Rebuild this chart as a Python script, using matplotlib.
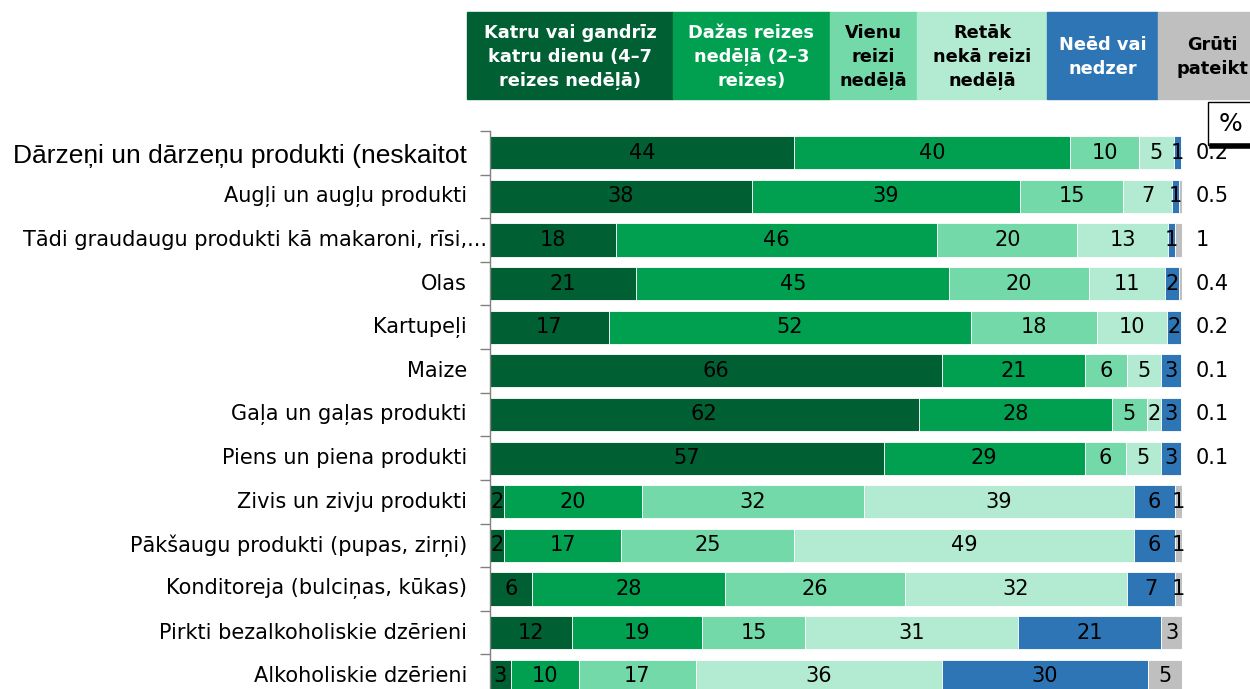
import numpy as np
import matplotlib.pyplot as plt
import matplotlib as mpl
from matplotlib.patches import Rectangle

mpl.rcParams['font.family'] = ['DejaVu Sans']

# dati
kategorijas = [
    "Dārzeņi un dārzeņu produkti (neskaitot",
    "Augļi un augļu produkti",
    "Tādi graudaugu produkti kā makaroni, rīsi,...",
    "Olas",
    "Kartupeļi",
    "Maize",
    "Gaļa un gaļas produkti",
    "Piens un piena produkti",
    "Zivis un zivju produkti",
    "Pākšaugu produkti (pupas, zirņi)",
    "Konditoreja (bulciņas, kūkas)",
    "Pirkti bezalkoholiskie dzērieni",
    "Alkoholiskie dzērieni",
]
katru_dienu = [44, 38, 18, 21, 17, 66, 62, 57, 2, 2, 6, 12, 3]
dazas_reizes = [40, 39, 46, 45, 52, 21, 28, 29, 20, 17, 28, 19, 10]
vienu_reizi = [10, 15, 20, 20, 18, 6, 5, 6, 32, 25, 26, 15, 17]
retak = [5, 7, 13, 11, 10, 5, 2, 5, 39, 49, 32, 31, 36]
needs = [1, 1, 1, 2, 2, 3, 3, 3, 6, 6, 7, 21, 30]
gruti = [0.2, 0.5, 1, 0.4, 0.2, 0.1, 0.1, 0.1, 1, 1, 1, 3, 5]

galvenes = [
    "Katru vai gandrīz\nkatru dienu (4–7\nreizes nedēļā)",
    "Dažas reizes\nnedēļā (2–3\nreizes)",
    "Vienu\nreizi\nnedēļā",
    "Retāk\nnekā reizi\nnedēļā",
    "Neēd vai\nnedzer",
    "Grūti\npateikt",
]
krasas = ['#005f33', '#00a050', '#73d9a8', '#b3ebd2', '#2e75b6', '#bfbfbf']
teksta_krasas = ['white', 'white', 'black', 'black', 'white', 'black']

serijas = [katru_dienu, dazas_reizes, vienu_reizi, retak, needs, gruti]
dati = np.array(serijas, dtype=float)
dati_norm = dati / dati.sum(axis=0) * 100

W, H = 1250, 689
fig = plt.figure(figsize=(W / 100, H / 100), dpi=100)

# galvenā ass
ax = fig.add_axes([490 / W, 1 - 698 / H, (1182 - 490) / W, (698 - 131) / H])
y = np.arange(len(kategorijas))
left = np.zeros(len(kategorijas))
for j, ser in enumerate(dati_norm):
    ax.barh(y, ser, left=left, height=0.76, color=krasas[j],
            edgecolor='white', linewidth=0.6)
    for i in range(len(kategorijas)):
        if j == 5 and i < 8:
            # mazās vērtības ārpus stabiņa
            ax.annotate(f"{serijas[j][i]:g}", xy=(100, y[i]), xytext=(14, 0),
                        textcoords='offset pixels', va='center', ha='left',
                        fontsize=15, annotation_clip=False)
            continue
        ax.text(left[i] + ser[i] / 2, y[i], f"{serijas[j][i]:g}",
                ha='center', va='center', fontsize=15, color='black')
    left += ser

# kategoriju nosaukumi
for i, nos in enumerate(kategorijas):
    if i == 0:
        ax.annotate(nos, xy=(0, y[i]), xycoords=('axes fraction', 'data'),
                    xytext=(-23, -3), textcoords='offset pixels', ha='right',
                    va='center', fontsize=19, family=['Liberation Sans', 'DejaVu Sans'],
                    annotation_clip=False)
    elif nos.endswith('...'):
        ax.annotate(nos, xy=(0, y[i]), xycoords=('axes fraction', 'data'),
                    xytext=(-3, 0), textcoords='offset pixels', ha='right',
                    va='center', fontsize=15, annotation_clip=False)
    else:
        ax.annotate(nos, xy=(0, y[i]), xycoords=('axes fraction', 'data'),
                    xytext=(-23, 0), textcoords='offset pixels', ha='right',
                    va='center', fontsize=15, annotation_clip=False)

ax.set_xlim(0, 100)
ax.set_ylim(len(kategorijas) - 0.5, -0.5)
ax.set_yticks([])
ax.set_yticks(np.arange(-0.5, len(kategorijas) - 0.5, 1), minor=True)
ax.tick_params(axis='y', which='minor', length=7, width=1, color='#808080')
ax.set_xticks([])
for s in ['top', 'right', 'bottom']:
    ax.spines[s].set_visible(False)
ax.spines['left'].set_color('#808080')
ax.spines['left'].set_linewidth(1)

# galvene ar krāsainiem lodziņiem
robezas = [467, 673, 830, 917, 1047, 1158, 1262]
for k in range(6):
    x0, x1 = robezas[k], robezas[k + 1]
    fig.patches.append(Rectangle((x0 / W, 1 - 99 / H), (x1 - x0) / W, 87 / H,
                                 transform=fig.transFigure, color=krasas[k], zorder=0))
    cx = (x0 + x1) / 2 if k < 5 else 1212
    fig.text(cx / W, 1 - 57 / H, galvenes[k], ha='center', va='center',
             color=teksta_krasas[k], fontsize=12.8, fontweight='bold',
             linespacing=1.45)

# procentu lodziņš
fig.patches.append(Rectangle((1208 / W, 1 - 145 / H), 46 / W, 43 / H,
                             transform=fig.transFigure, facecolor='white',
                             edgecolor='black', linewidth=1, zorder=5))
fig.lines.append(plt.Line2D([1212 / W, 1.0], [1 - 146 / H, 1 - 146 / H],
                            transform=fig.transFigure, color='black',
                            linewidth=4, zorder=6))
fig.text(1230 / W, 1 - 124 / H, "%", ha='center', va='center', fontsize=18, zorder=7)

fig.savefig("out.png", dpi=100)
